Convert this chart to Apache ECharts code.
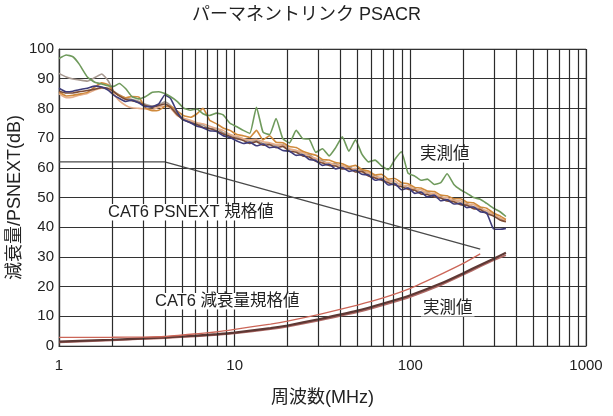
<!DOCTYPE html>
<html>
<head>
<meta charset="utf-8">
<script src="https://cdn.jsdelivr.net/npm/echarts@6.0.0/dist/echarts.min.js"></script>
<style>
html,body{margin:0;padding:0;background:#fff;}
#chart{width:613px;height:416px;}
</style>
</head>
<body>
<div id="chart"></div>
<script>
// ---- data ----
const freqNext = [1,1.1,1.2,1.3,1.45,1.6,1.75,1.9,2.05,2.2,2.4,2.6,2.85,3.1,3.4,3.7,4.0,4.3,4.7,5.1,5.6,6.1,6.6,7.2,7.9,8.6,9.4,10.3,11.2,12.2,13.3,14.5,15.8,17.2,18.8,20.5,22.4,24.4,26.6,29,31.6,34.5,37.6,41,44.7,48.7,53,57.8,63,68.7,74.9,81.6,89,97,106,115,125,137,149,162,177,193,210,229,250,272,297,324,350];
const nextGreen = [96.8,98.0,97.4,95.0,90.6,88.8,88.2,87.6,87.4,88.4,86.6,84.0,83.2,83.9,85.4,85.6,85.0,84.0,82.4,80.2,79.4,79.8,78.2,77.6,78.4,77.8,75.0,73.8,72.6,71.6,80.4,72.0,71.2,76.6,69.8,68.4,72.6,69.8,69.6,65.2,66.4,64.0,66.8,70.4,65.6,69.4,64.6,62.0,62.6,60.6,59.4,62.8,65.4,58.2,57.2,55.8,56.2,54.4,55.0,58.0,54.4,52.6,51.4,50.0,49.4,48.0,46.4,45.2,43.6];
const nextTaupe = [91.8,90.6,89.9,89.6,89.2,90.4,91.6,89.4,85.8,84.6,83.4,83.0,82.4,81.4,80.8,81.2,82.2,81.0,78.4,76.6,75.6,74.8,74.4,73.2,73.2,71.8,71.2,70.2,69.8,68.8,69.2,68.2,68.2,67.4,67.8,66.2,65.8,64.6,64.4,62.8,62.4,61.2,61.4,60.2,60.4,59.2,59.4,57.8,57.4,56.2,55.8,54.8,54.4,53.2,53.0,51.8,51.8,50.6,50.4,49.2,49.2,48.2,48.0,46.8,46.6,45.0,44.4,42.8,42.4];
const nextOrange = [85.6,84.2,84.4,84.8,85.4,87.2,88.6,88.0,85.6,84.4,83.6,84.0,83.8,80.2,79.2,79.4,80.6,80.8,79.2,77.6,77.0,78.2,80.0,76.0,74.8,73.4,72.6,71.2,70.8,70.2,72.6,69.4,70.8,68.6,68.4,67.2,66.8,65.6,64.8,64.2,62.8,62.6,61.8,61.4,60.4,60.8,59.4,58.9,57.6,57.8,56.2,56.4,55.0,54.6,53.4,53.2,52.2,52.0,50.8,50.6,49.6,49.6,48.4,48.2,46.8,46.4,44.8,43.8,42.6];
const nextPeach = [85.0,83.6,83.8,84.4,85.0,86.2,86.8,86.4,84.8,82.6,81.0,80.2,80.0,79.8,79.6,80.4,80.8,80.2,77.6,76.8,76.0,75.2,74.8,74.0,73.2,72.6,71.2,70.6,69.8,69.4,69.6,68.8,68.4,67.8,67.6,66.4,65.8,65.2,63.8,63.2,61.8,61.8,60.8,60.8,59.6,59.8,58.6,58.4,56.8,56.8,55.4,55.6,54.0,54.0,52.6,52.6,51.4,51.4,50.0,50.0,48.8,48.9,47.6,47.6,46.2,45.6,44.2,43.2,42.2];
const nextBrown = [85.8,85.2,85.2,85.6,86.0,86.5,87.0,86.8,85.6,84.2,83.0,82.6,82.0,81.0,80.4,81.0,81.5,80.4,78.0,76.2,75.2,74.6,73.6,73.2,72.4,71.4,70.6,69.8,69.2,68.2,68.8,67.6,67.8,66.8,67.2,65.6,65.2,64.0,63.6,62.2,61.6,60.8,60.6,59.6,59.8,58.6,58.8,57.2,56.6,55.8,55.0,54.2,53.6,52.8,52.4,51.2,51.0,50.2,49.8,48.8,48.6,47.6,47.4,46.2,46.0,44.6,43.8,42.4,41.8];
const nextNavy = [86.8,85.6,85.8,86.3,86.8,87.5,87.2,86.2,84.5,83.4,82.3,82.8,81.8,80.6,80.6,81.5,84.5,83.5,78.9,76.1,75.2,74.0,73.5,72.5,72.2,70.8,70.2,69.0,68.2,68.6,67.4,68.0,66.8,67.0,65.8,65.6,64.2,64.4,62.8,62.4,60.8,61.2,59.6,60.1,58.8,59.2,57.8,57.6,55.8,56.2,54.2,54.6,52.6,53.2,51.4,51.8,50.2,50.8,48.9,49.3,47.8,48.0,46.6,46.8,45.2,44.8,39.5,39.3,39.6];

const freqPsnextSpec = [1, 4, 250];
const psnextSpec = [62, 62, 32.6];

const freqIL = [1,2,3,4,6,8,10,16,20,30,50,70,100,150,200,250,300,350];
const ilMeasuredA = [1.5,2.1,2.6,2.9,3.5,4.0,4.5,6.0,6.9,9.0,11.9,14.3,17.1,21.1,24.5,27.3,29.5,31.4];
const ilMeasuredB = [1.3,1.9,2.4,2.7,3.3,3.8,4.3,5.7,6.6,8.6,11.4,13.8,16.6,20.6,24.0,26.8,29.0,30.6];
const ilSpecFreq = [1,2,3,4,6,8,10,16,20,30,50,70,100,150,200,250];
const ilSpec = [2.9,2.95,3.0,3.2,4.1,4.8,5.6,7.4,8.4,10.6,13.8,16.2,19.4,24.2,27.8,31.0];

const minorGridFreqs = [2,3,4,5,6,7,8,9,20,30,40,50,60,70,80,90,200,300,400,500,600,700,800,900];
const yTicks = {min:0, max:100, interval:10};

const FONT = '"Liberation Sans","Noto Sans CJK JP",sans-serif';
const pairs = (xs, ys) => xs.map((x, i) => [x, ys[i]]);

function lineSeries(name, xs, ys, color, width, z, smooth) {
  return {
    name, type: 'line', data: pairs(xs, ys), showSymbol: false, symbol: 'none',
    smooth: smooth === undefined ? 0.15 : smooth, lineStyle: {color, width}, z: z || 3, silent: true, animation: false
  };
}

const chart = echarts.init(document.getElementById('chart'));
chart.setOption({
  animation: false,
  backgroundColor: '#fff',
  title: {
    text: 'パーマネントリンク PSACR', left: 'center', top: 1,
    textStyle: {fontFamily: FONT, fontSize: 18, fontWeight: 'normal', color: '#222'}
  },
  grid: {left: 59, right: 27, top: 49, bottom: 70, show: true, borderColor: '#8a8a8a', borderWidth: 1, containLabel: false, outerBoundsMode: 'none'},
  xAxis: {
    type: 'log', logBase: 10, min: 1, max: 1000,
    name: '周波数(MHz)', nameLocation: 'middle', nameGap: 43, nameMoveOverlap: false,
    nameTextStyle: {fontFamily: FONT, fontSize: 18, color: '#222'},
    axisLine: {show: true, lineStyle: {color: '#333', width: 1.2}},
    axisTick: {show: false},
    axisLabel: {fontFamily: FONT, fontSize: 15, color: '#222', margin: 12, formatter: v => String(v)},
    splitLine: {show: true, lineStyle: {color: '#2b2b2b', width: 1.2}},
    minorTick: {show: false}, minorSplitLine: {show: false}
  },
  yAxis: {
    type: 'value', min: yTicks.min, max: yTicks.max, interval: yTicks.interval,
    name: '減衰量/PSNEXT(dB)', nameLocation: 'middle', nameGap: 35, nameMoveOverlap: false,
    nameTextStyle: {fontFamily: FONT, fontSize: 18, color: '#222'},
    axisLine: {show: true, lineStyle: {color: '#333', width: 1.2}},
    axisTick: {show: false},
    axisLabel: {fontFamily: FONT, fontSize: 15, color: '#222', margin: 5},
    splitLine: {show: true, lineStyle: {color: '#333', width: 1.2}}
  },
  series: [
    {
      type: 'line', data: [], silent: true, z: 1,
      markLine: {
        silent: true, symbol: ['none', 'none'], label: {show: false}, animation: false,
        lineStyle: {color: '#2b2b2b', width: 1.2, type: 'solid'},
        data: minorGridFreqs.map(v => ({xAxis: v}))
      }
    },
    lineSeries('PSNEXT規格', freqPsnextSpec, psnextSpec, '#4a4a4a', 1.2, 4, false),
    lineSeries('減衰量規格', ilSpecFreq, ilSpec, '#cc6658', 1.3, 5),
    lineSeries('減衰量実測B', freqIL, ilMeasuredB, '#b06a66', 2, 4),
    lineSeries('減衰量実測A', freqIL, ilMeasuredA, '#5e3834', 2.2, 4),
    lineSeries('taupe', freqNext, nextTaupe, '#a89a92', 1.6, 3),
    lineSeries('peach', freqNext, nextPeach, '#e6ae8a', 1.6, 3),
    lineSeries('orange', freqNext, nextOrange, '#d08a3c', 1.6, 3),
    lineSeries('brown', freqNext, nextBrown, '#7c4c36', 1.6, 3),
    lineSeries('navy', freqNext, nextNavy, '#3e3c7a', 1.6, 3),
    lineSeries('green', freqNext, nextGreen, '#6f9a5c', 1.6, 3)
  ],
  graphic: [
    {type: 'text', left: 106, top: 204, z: 100, style: {text: 'CAT6 PSNEXT 規格値', font: '16.5px ' + FONT, fill: '#222', backgroundColor: '#fff', padding: [0, 2]}},
    {type: 'text', left: 418, top: 146, z: 100, style: {text: '実測値', font: '16.5px ' + FONT, fill: '#222', backgroundColor: '#fff', padding: [0, 2]}},
    {type: 'text', left: 153, top: 293, z: 100, style: {text: 'CAT6 減衰量規格値', font: '16.5px ' + FONT, fill: '#222', backgroundColor: '#fff', padding: [0, 2]}},
    {type: 'text', left: 421, top: 300, z: 100, style: {text: '実測値', font: '16.5px ' + FONT, fill: '#222', backgroundColor: '#fff', padding: [0, 2]}}
  ]
});
</script>
</body>
</html>
